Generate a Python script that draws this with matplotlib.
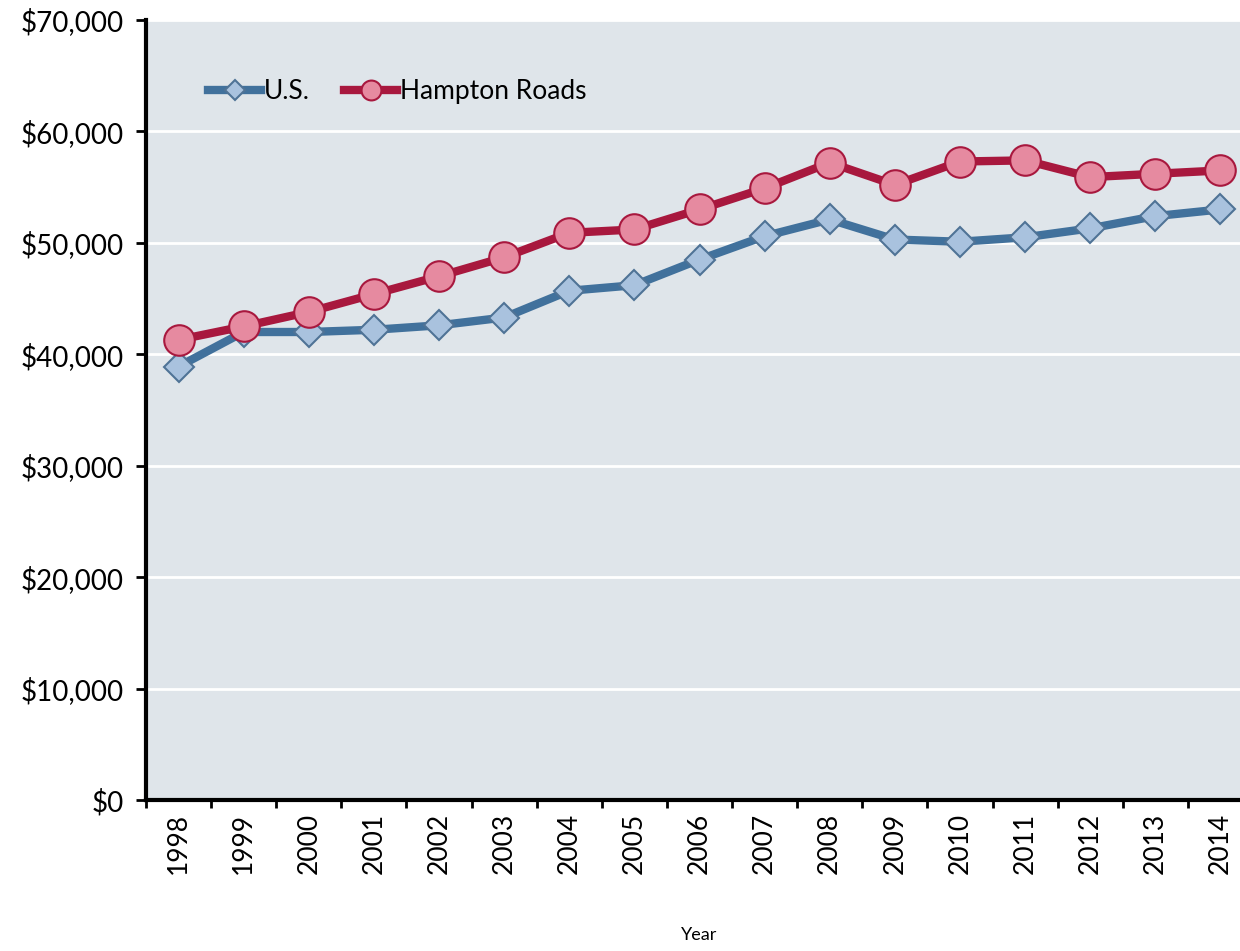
import matplotlib.pyplot as plt
from matplotlib.ticker import FuncFormatter

years = [str(y) for y in range(1998, 2015)]
us = [38900, 42000, 42000, 42200, 42600, 43300, 45700, 46200, 48500,
      50600, 52100, 50300, 50100, 50500, 51300, 52400, 53000]
hampton_roads = [41300, 42500, 43800, 45400, 47000, 48700, 50900, 51200, 53000,
                 54900, 57200, 55200, 57300, 57400, 55900, 56200, 56500]
y_ticks = list(range(0, 70001, 10000))

plt.rcParams['font.family'] = ['Lato', 'DejaVu Sans']

fig = plt.figure(figsize=(12.4, 9.51), dpi=100)
ax = fig.add_axes([146 / 1240, 151 / 951, 1107 / 1240, 780 / 951])
ax.set_facecolor('#dfe5ea')

x = list(range(len(years)))

ax.plot(x, us, color='#41719c', lw=6, marker='D', ms=15,
        mfc='#a9c2de', mec='#4f7396', mew=1.5, label='U.S.', zorder=3)
ax.plot(x, hampton_roads, color='#a8183e', lw=6, marker='o', ms=22,
        mfc='#e68aa0', mec='#a8183e', mew=1.5, label='Hampton Roads', zorder=4)

ax.set_ylim(0, 70000)
ax.set_xlim(-0.5, len(years) - 0.5)
ax.set_yticks(y_ticks)
ax.yaxis.set_major_formatter(FuncFormatter(lambda v, p: '${:,.0f}'.format(v)))
ax.grid(axis='y', color='white', lw=2)
ax.set_axisbelow(True)

# labels at the centre, tick marks between the years
ax.set_xticks(x)
ax.set_xticklabels(years, rotation=90)
ax.set_xticks([i - 0.5 for i in range(len(years) + 1)], minor=True)
ax.tick_params(axis='x', which='major', length=0, labelsize=19, pad=9)
ax.tick_params(axis='x', which='minor', length=6, width=2, direction='out')
ax.tick_params(axis='y', length=7, width=2, direction='out', labelsize=20, pad=9)

for s in ['top', 'right']:
    ax.spines[s].set_visible(False)
for s in ['left', 'bottom']:
    ax.spines[s].set_linewidth(3)

ax.set_xlabel('Year', fontsize=13, labelpad=38)

ax.legend(loc='upper left', bbox_to_anchor=(0.035, 0.955), ncol=2, frameon=False,
          fontsize=19, handlelength=2.0, handletextpad=0.1, columnspacing=1.3,
          markerscale=0.65)

fig.savefig('out.png', dpi=100)
